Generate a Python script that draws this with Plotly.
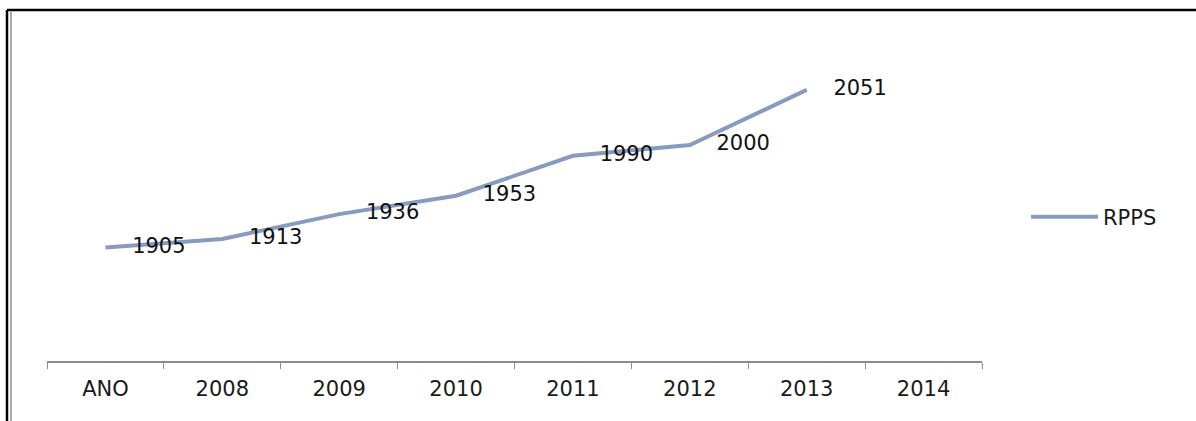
import plotly.graph_objects as go

categories = ["ANO", "2008", "2009", "2010", "2011", "2012", "2013", "2014"]
rpps = [1905, 1913, 1936, 1953, 1990, 2000, 2051, None]
series_name = "RPPS"

W, H = 1196, 421
L, R, T, B = 47, 214, 37, 60
pw = W - L - R
ph = H - T - B

def px_x(p):
    return (p - L) / pw

def px_y(p):
    return (H - B - p) / ph

fig = go.Figure()
fig.add_trace(go.Scatter(
    x=categories, y=rpps, name=series_name, mode="lines+text",
    line=dict(color="rgb(135,155,190)", width=4),
    text=[("" if v is None else str(v)) for v in rpps],
    texttemplate="    %{text}",
    textposition="middle right",
    textfont=dict(family="DejaVu Sans", size=21, color="#111111"),
    showlegend=True, cliponaxis=False,
))

fig.update_layout(
    width=W, height=H,
    margin=dict(l=L, r=R, t=T, b=B),
    paper_bgcolor="white", plot_bgcolor="white",
    xaxis=dict(
        type="category", categoryorder="array", categoryarray=categories,
        range=[-0.5, len(categories) - 0.5],
        showline=True, linecolor="#8c8c8c", linewidth=1.5,
        ticks="outside", tickson="boundaries", ticklen=6, tickcolor="#8c8c8c",
        showgrid=False, zeroline=False,
        tickfont=dict(family="DejaVu Sans", size=21, color="#1a1a1a"),
        ticklabelstandoff=8,
    ),
    yaxis=dict(range=[1800, 2100], visible=False, showgrid=False, zeroline=False),
    legend=dict(
        x=px_x(1026), y=px_y(217), xanchor="left", yanchor="middle",
        xref="paper", yref="paper",
        font=dict(family="DejaVu Sans", size=21, color="#1a1a1a"),
        itemwidth=67, bgcolor="rgba(0,0,0,0)",
    ),
    shapes=[
        dict(type="line", xref="paper", yref="paper",
             x0=px_x(7), x1=px_x(W + 5), y0=px_y(10), y1=px_y(10),
             line=dict(color="black", width=2.5)),
        dict(type="line", xref="paper", yref="paper",
             x0=px_x(7), x1=px_x(7), y0=px_y(10), y1=px_y(H + 5),
             line=dict(color="black", width=2.5)),
        dict(type="line", xref="paper", yref="paper",
             x0=px_x(11), x1=px_x(11), y0=px_y(12), y1=px_y(H + 5),
             line=dict(color="#a8a8a8", width=2)),
    ],
)

fig.write_html("out.html", config={"displayModeBar": False},
               post_script="document.body.style.margin='0';document.body.style.overflow='hidden';")
